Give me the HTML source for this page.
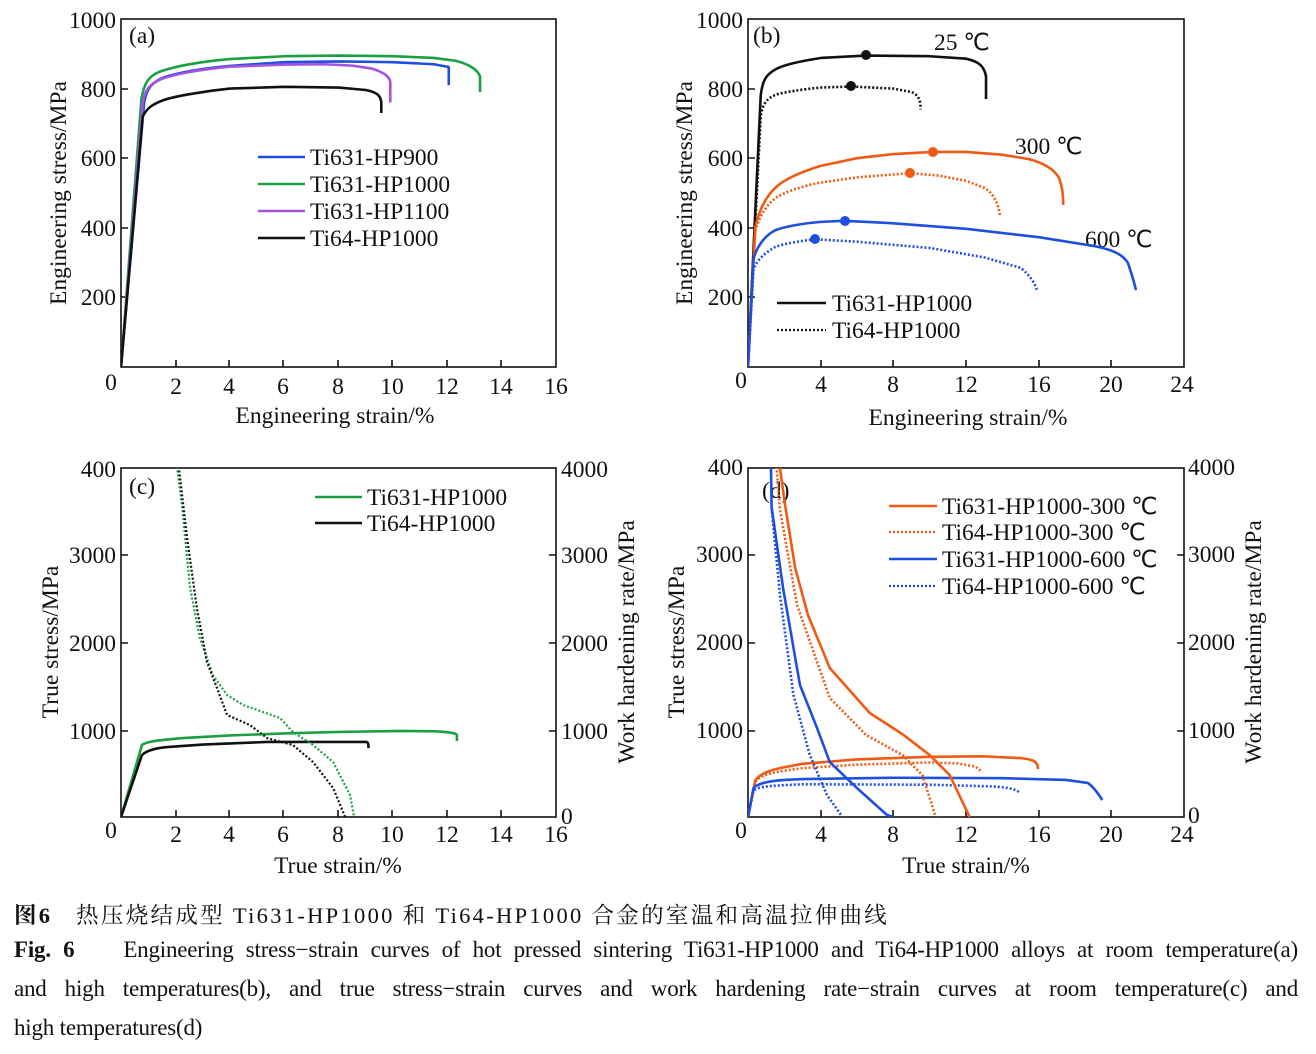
<!DOCTYPE html>
<html><head><meta charset="utf-8"><style>
body{margin:0;background:#fff;width:1316px;height:1054px;overflow:hidden;position:relative;font-family:"Liberation Serif","Noto Serif CJK SC",serif;}
svg{position:absolute;left:0;top:0}
.cap{position:absolute;left:14px;width:1284px;font-size:23px;color:#111;white-space:nowrap;letter-spacing:-0.2px}
.j{text-align:justify;text-align-last:justify;white-space:normal}
</style></head><body>
<svg width="1316" height="880" font-family="Liberation Serif, serif" font-size="23.5" fill="#111">
<defs>
<clipPath id="ca"><rect x="121" y="19" width="435" height="348"/></clipPath>
<clipPath id="cb"><rect x="748" y="19" width="436" height="348"/></clipPath>
<clipPath id="cc"><rect x="121" y="468" width="435" height="349"/></clipPath>
<clipPath id="cd"><rect x="748" y="468" width="436" height="349"/></clipPath>
</defs>
<g fill="none" stroke="#111" stroke-width="1.6">
<rect x="121" y="19" width="435" height="348"/>
<rect x="748" y="19" width="436" height="348"/>
<rect x="121" y="468" width="435" height="349"/>
<rect x="748" y="468" width="436" height="349"/>
<path d="M176 367v-7M229 367v-7M283 367v-7M338 367v-7M392 367v-7M447 367v-7M501 367v-7M121 297h7M121 228h7M121 158h7M121 89h7"/>
<path d="M821 367v-7M893 367v-7M966 367v-7M1039 367v-7M1111 367v-7M748 297h7M748 228h7M748 158h7M748 89h7"/>
<path d="M176 817v-7M229 817v-7M283 817v-7M338 817v-7M392 817v-7M447 817v-7M501 817v-7M121 731h7M121 643h7M121 555h7M556 731h-7M556 643h-7M556 555h-7"/>
<path d="M821 817v-7M893 817v-7M966 817v-7M1039 817v-7M1111 817v-7M748 731h7M748 643h7M748 555h7M1184 731h-7M1184 643h-7M1184 555h-7"/>
</g>
<g text-anchor="end">
<text x="116" y="28">1000</text><text x="116" y="97">800</text><text x="116" y="166">600</text><text x="116" y="236">400</text><text x="116" y="305">200</text>
<text x="743" y="28">1000</text><text x="743" y="97">800</text><text x="743" y="166">600</text><text x="743" y="236">400</text><text x="743" y="305">200</text>
<text x="116" y="477">400</text><text x="116" y="563">3000</text><text x="116" y="651">2000</text><text x="116" y="739">1000</text>
<text x="743" y="475">400</text><text x="743" y="562">3000</text><text x="743" y="650">2000</text><text x="743" y="738">1000</text>
</g>
<g text-anchor="start">
<text x="561" y="477">4000</text><text x="561" y="563">3000</text><text x="561" y="651">2000</text><text x="561" y="739">1000</text><text x="561" y="824">0</text>
<text x="1188" y="475">4000</text><text x="1188" y="562">3000</text><text x="1188" y="650">2000</text><text x="1188" y="738">1000</text><text x="1188" y="823">0</text>
</g>
<g text-anchor="middle">
<text x="111" y="390">0</text><text x="176" y="394">2</text><text x="229" y="394">4</text><text x="283" y="394">6</text><text x="338" y="394">8</text><text x="392" y="394">10</text><text x="447" y="394">12</text><text x="501" y="394">14</text><text x="556" y="394">16</text>
<text x="741" y="388">0</text><text x="821" y="392">4</text><text x="893" y="392">8</text><text x="966" y="392">12</text><text x="1039" y="392">16</text><text x="1111" y="392">20</text><text x="1182" y="392">24</text>
<text x="111" y="838">0</text><text x="176" y="842">2</text><text x="229" y="842">4</text><text x="283" y="842">6</text><text x="338" y="842">8</text><text x="392" y="842">10</text><text x="447" y="842">12</text><text x="501" y="842">14</text><text x="556" y="842">16</text>
<text x="741" y="838">0</text><text x="821" y="842">4</text><text x="893" y="842">8</text><text x="966" y="842">12</text><text x="1039" y="842">16</text><text x="1111" y="842">20</text><text x="1182" y="842">24</text>
<text x="335" y="423">Engineering strain/%</text>
<text x="968" y="425">Engineering strain/%</text>
<text x="338" y="873">True strain/%</text>
<text x="966" y="873">True strain/%</text>
<text transform="translate(66,193) rotate(-90)">Engineering stress/MPa</text>
<text transform="translate(692,193) rotate(-90)">Engineering stress/MPa</text>
<text transform="translate(58,642) rotate(-90)">True stress/MPa</text>
<text transform="translate(684,642) rotate(-90)">True stress/MPa</text>
<text transform="translate(634,642) rotate(-90)">Work hardening rate/MPa</text>
<text transform="translate(1261,642) rotate(-90)">Work hardening rate/MPa</text>
</g>
<text x="129" y="43">(a)</text><text x="753" y="43">(b)</text><text x="129" y="494">(c)</text><text x="762" y="498">(d)</text>
<text x="934" y="50">25 ℃</text><text x="1015" y="154">300 ℃</text><text x="1085" y="247">600 ℃</text>
<g stroke-width="2.6" fill="none">
<path d="M258 157h47" stroke="#1f4fe0"/><path d="M258 184h47" stroke="#1aa043"/><path d="M258 211h47" stroke="#a452e0"/><path d="M258 238h47" stroke="#111"/>
<path d="M777 303h49" stroke="#111"/><path d="M777 330h49" stroke="#111" stroke-width="2.2" stroke-dasharray="2 2"/>
<path d="M315 497h47" stroke="#1aa043"/><path d="M315 523h47" stroke="#111"/>
<path d="M889 506h48" stroke="#f05a14"/><path d="M889 532h48" stroke="#f05a14" stroke-width="2.2" stroke-dasharray="2 2"/><path d="M889 559h48" stroke="#1f4fe0"/><path d="M889 586h48" stroke="#1f4fe0" stroke-width="2.2" stroke-dasharray="2 2"/>
</g>
<text x="310" y="165">Ti631-HP900</text><text x="310" y="192">Ti631-HP1000</text><text x="310" y="219">Ti631-HP1100</text><text x="310" y="246">Ti64-HP1000</text>
<text x="832" y="311">Ti631-HP1000</text><text x="832" y="338">Ti64-HP1000</text>
<text x="367" y="505">Ti631-HP1000</text><text x="367" y="531">Ti64-HP1000</text>
<text x="942" y="514">Ti631-HP1000-300 ℃</text><text x="942" y="540">Ti64-HP1000-300 ℃</text><text x="942" y="567">Ti631-HP1000-600 ℃</text><text x="942" y="594">Ti64-HP1000-600 ℃</text>
<g clip-path="url(#ca)"><g transform="translate(121,367) scale(27.2,-0.348)" fill="none" stroke-width="2.6" stroke-linejoin="round">
<path vector-effect="non-scaling-stroke" stroke="#1aa043" d="M0 0L0.75 770C0.85 815 1 835 1.4 848C2 865 3 878 4 885L6 893L8 895L10 893L11.5 888L12.3 880C12.8 870 13.1 855 13.2 835L13.2 790"/>
<path vector-effect="non-scaling-stroke" stroke="#1f4fe0" d="M0 0L0.85 760C0.95 800 1.1 815 1.5 830C2 845 3 858 4 865L6 876L8 878L10 876L11.5 870L12.05 862L12.05 810"/>
<path vector-effect="non-scaling-stroke" stroke="#a452e0" d="M0 0L0.8 760C0.9 800 1.05 812 1.5 828C2 842 3 856 4 863L6 869L7.5 870L8.5 866L9.2 858C9.6 848 9.85 838 9.9 820L9.9 760"/>
<path vector-effect="non-scaling-stroke" stroke="#111" d="M0 0L0.8 720C0.95 745 1.2 757 1.6 768C2 778 3 792 4 800L6 805L8 803L9 796C9.4 790 9.55 780 9.57 760L9.57 730"/>
</g></g>
<g clip-path="url(#cb)"><g transform="translate(748,367) scale(18.17,-0.348)" fill="none" stroke-width="2.6" stroke-linejoin="round">
<path vector-effect="non-scaling-stroke" stroke="#111" d="M0 0L0.7 780C0.8 825 1 840 1.5 855C2 870 3 880 4 888L6.5 895L10 893L12 886C12.7 878 13 865 13.1 835L13.1 770"/>
<path vector-effect="non-scaling-stroke" stroke="#111" stroke-dasharray="2 2" d="M0 0L0.7 720C0.8 755 1 770 1.5 782C2 790 3 798 4 803L5.7 806L8 800L9 790C9.35 782 9.5 770 9.5 740"/>
<path vector-effect="non-scaling-stroke" stroke="#f05a14" d="M0 0L0.4 400C0.6 450 1 490 1.5 515C2 540 3 562 4 578L6 600L8 612L10.2 618L12 618L14 610L15.5 597C16.3 585 16.8 570 17.1 545C17.3 520 17.35 495 17.35 466"/>
<path vector-effect="non-scaling-stroke" stroke="#f05a14" stroke-dasharray="2 2" d="M0 0L0.4 390C0.6 430 1 465 1.5 485C2 503 3 520 4 530L6 545L8.9 557L10.5 550L12 535L13 515C13.5 500 13.8 470 13.87 431"/>
<path vector-effect="non-scaling-stroke" stroke="#1f4fe0" d="M0 0L0.3 310C0.5 350 1 380 1.5 393C2 403 3 413 4 417L5.3 420L8 413L12 397L16 373L19 348C20 338 20.6 325 20.9 300C21.1 270 21.25 245 21.35 221"/>
<path vector-effect="non-scaling-stroke" stroke="#1f4fe0" stroke-dasharray="2 2" d="M0 0L0.3 280C0.5 310 1 330 1.5 345C2 355 3 363 3.7 367L6 360L10 342L13 315L15 285C15.5 265 15.8 240 15.9 221"/>
</g></g>
<g fill="#111"><circle cx="866" cy="55" r="5"/><circle cx="851" cy="86" r="5"/></g>
<g fill="#f05a14"><circle cx="933" cy="152" r="5"/><circle cx="910" cy="173" r="5"/></g>
<g fill="#1f4fe0"><circle cx="845" cy="221" r="5"/><circle cx="815" cy="239" r="5"/></g>
<g clip-path="url(#cc)"><g transform="translate(121,817) scale(27.2,-0.08725)" fill="none" stroke-width="2.6" stroke-linejoin="round">
<path vector-effect="non-scaling-stroke" stroke="#1aa043" d="M0 0L0.77 825C0.9 860 1.3 880 2.28 905L4 935L6 958L8 975L10.26 986L11.5 982C12 975 12.3 965 12.35 940L12.35 871"/>
<path vector-effect="non-scaling-stroke" stroke="#111" d="M0 0L0.77 710C0.9 750 1.2 790 1.7 802L3 830L5.37 860L9.04 860C9.1 850 9.1 820 9.1 790"/>
<path vector-effect="non-scaling-stroke" stroke="#1aa043" stroke-width="2.2" stroke-dasharray="2 2" d="M2.0 4200L2.06 4000L2.24 3576L2.54 2624L2.9 2051L3.38 1627L3.9 1398L4.49 1284L5.85 1134L6.32 974L7.06 825L7.8 630L8.42 252L8.57 0"/>
<path vector-effect="non-scaling-stroke" stroke="#111" stroke-width="2.2" stroke-dasharray="2 2" d="M2.1 4200L2.13 4000L2.43 3198L2.79 2395L3.16 1776L3.53 1478L3.9 1169L4.74 1054L5.37 905L6.32 825L7.06 630L7.8 332L8.24 0"/>
</g></g>
<g clip-path="url(#cd)"><g transform="translate(748,817) scale(18.17,-0.08725)" fill="none" stroke-width="2.6" stroke-linejoin="round">
<path vector-effect="non-scaling-stroke" stroke="#f05a14" d="M0 0L0.4 420C0.6 480 1 530 2 570L3 610L6 660L10 690L13 695L15 675C15.7 660 15.95 640 15.96 550"/>
<path vector-effect="non-scaling-stroke" stroke="#f05a14" stroke-dasharray="2 2" d="M0 0L0.4 400C0.6 460 1 500 2 530L3 560L6 600L10 625L11.5 615L12.5 580L12.9 515"/>
<path vector-effect="non-scaling-stroke" stroke="#1f4fe0" d="M0 0L0.3 330C0.5 380 1 410 2 425L3 435L8 450L14 445L17.5 425L18.7 390C19 350 19.3 260 19.5 195"/>
<path vector-effect="non-scaling-stroke" stroke="#1f4fe0" stroke-dasharray="2 2" d="M0 0L0.3 300C0.5 340 1 355 2 365L3 375L10 370L13.5 350C14.3 340 14.7 320 14.9 287"/>
<path vector-effect="non-scaling-stroke" stroke="#f05a14" d="M1.7 4200L1.76 4000L2.04 3575L2.6 2850L3.3 2315L4.5 1708L6.7 1192L8.5 950L10 710L11.1 480L12.2 0"/>
<path vector-effect="non-scaling-stroke" stroke="#f05a14" stroke-dasharray="2 2" d="M1.5 4200L1.76 3520L2.7 2430L4.5 1364L6.5 940L8.5 710L9.6 480L10.3 20L10.35 0"/>
<path vector-effect="non-scaling-stroke" stroke="#1f4fe0" d="M1.25 4200L1.3 3550L1.93 2625L2.86 1513L3.8 1020L4.5 630L6 332L7.65 23L8 0"/>
<path vector-effect="non-scaling-stroke" stroke="#1f4fe0" stroke-dasharray="2 2" d="M1.3 3540L1.76 2545L2.5 1400L3.4 710L4.35 250L5.2 0"/>
</g></g>
</svg>
<div class="cap" style="top:898px;font-size:22.5px;letter-spacing:2.3px"><b>图6</b>&nbsp;&nbsp;&nbsp;热压烧结成型 Ti631-HP1000 和 Ti64-HP1000 合金的室温和高温拉伸曲线</div>
<div class="cap j" style="top:937px"><b>Fig. 6</b>&nbsp;&nbsp;&nbsp; Engineering stress−strain curves of hot pressed sintering Ti631-HP1000 and Ti64-HP1000 alloys at room temperature(a)</div>
<div class="cap j" style="top:976px">and high temperatures(b), and true stress−strain curves and work hardening rate−strain curves at room temperature(c) and</div>
<div class="cap" style="top:1015px">high temperatures(d)</div>
</body></html>
